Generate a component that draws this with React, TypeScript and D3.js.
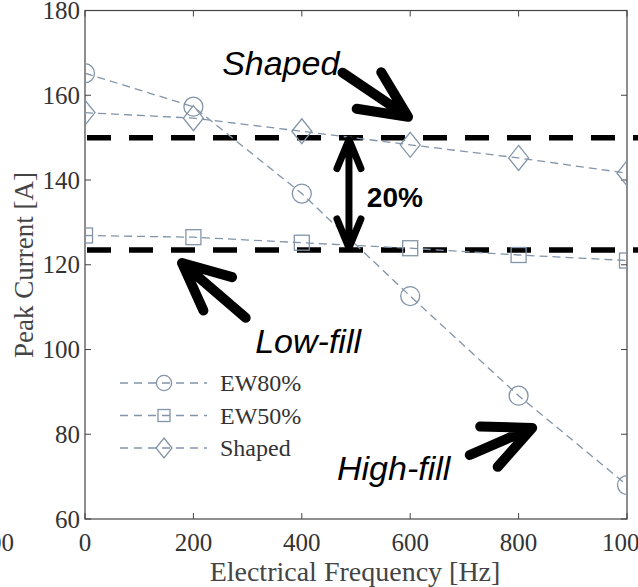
import * as d3 from "d3";

const freqs = [0, 200, 400, 600, 800, 1000];
const ew80 = [165.2, 157.3, 136.8, 112.6, 89.1, 68.0];
const ew50 = [126.9, 126.5, 125.2, 123.9, 122.3, 121.0];
const shaped = [155.9, 154.6, 151.5, 148.3, 145.2, 141.6];

const xTicks = [0, 200, 400, 600, 800, 1000];
const yTicks = [60, 80, 100, 120, 140, 160, 180];

// reference levels (dashed black) and the 20% gap
const levels = [150, 123.5];

// annotation arrows: tip in data units, direction of the tail in degrees, shaft length in px
const arrows = [
  { x: 596, y: 154.9, angle: 214, len: 79 },
  { x: 179, y: 120.4, angle: 40.7, len: 84 },
  { x: 825, y: 81.5, angle: 156.5, len: 68 },
];
const notes = [
  { text: "Shaped", x: 253, y: 164.8 },
  { text: "Low-fill", x: 314, y: 99.2 },
  { text: "High-fill", x: 465, y: 69.2 },
];
const gapX = 487;

const series = [
  { name: "EW80%", values: ew80, marker: "circle" },
  { name: "EW50%", values: ew50, marker: "square" },
  { name: "Shaped", values: shaped, marker: "diamond" },
];

const W = 638;
const H = 587;
const color = "#8394a8";
const axisColor = "#444";
const serif = "'Liberation Serif', 'Times New Roman', serif";
const sans = "'Liberation Sans', Arial, sans-serif";

function Marker({ kind, cx, cy, s = 1 }: { kind: string; cx: number; cy: number; s?: number }) {
  const st = { fill: "none", stroke: color, strokeWidth: 1.3 };
  if (kind === "circle") return <circle cx={cx} cy={cy} r={9.5 * s} {...st} />;
  if (kind === "square") {
    const h = 7.5 * s;
    return <rect x={cx - h} y={cy - h} width={2 * h} height={2 * h} {...st} />;
  }
  const w = 10 * s;
  const hh = 12.5 * s;
  return <path d={`M${cx},${cy - hh}L${cx + w},${cy}L${cx},${cy + hh}L${cx - w},${cy}Z`} {...st} />;
}

function arrowPath(tx: number, ty: number, angle: number, len: number, head = 52, spread = 25) {
  const r = (a: number) => (a * Math.PI) / 180;
  const pt = (a: number, l: number) => [tx + l * Math.cos(r(a)), ty + l * Math.sin(r(a))];
  const tail = pt(angle, len);
  const w1 = pt(angle + spread, head);
  const w2 = pt(angle - spread, head);
  return `M${tail[0]},${tail[1]}L${tx},${ty}M${w1[0]},${w1[1]}L${tx},${ty}L${w2[0]},${w2[1]}`;
}

export default function App() {
  const x = d3.scaleLinear().domain([0, 1000]).range([85, 627]);
  const y = d3.scaleLinear().domain([60, 180]).range([519, 10.5]);
  const [x0, x1] = x.range();
  const [y0, y1] = y.range();

  const line = d3
    .line<number>()
    .x((_, i) => x(freqs[i]))
    .y((d) => y(d));

  const gTop = y(levels[0]);
  const gBot = y(levels[1]);
  const gx = x(gapX);
  const hs = 12;
  const hl = 31;

  return (
    <svg width={W} height={H} style={{ position: "absolute", left: 0, top: 0, background: "#fff" }}>
      <defs>
        <clipPath id="plot">
          <rect x={x0} y={y1} width={x1 - x0} height={y0 - y1} />
        </clipPath>
      </defs>

      {/* axes box and ticks */}
      <rect x={x0} y={y1} width={x1 - x0} height={y0 - y1} fill="none" stroke={axisColor} strokeWidth={1.2} />
      {xTicks.map((t) => (
        <g key={"x" + t}>
          <line x1={x(t)} x2={x(t)} y1={y0} y2={y0 - 6} stroke={axisColor} />
          <line x1={x(t)} x2={x(t)} y1={y1} y2={y1 + 6} stroke={axisColor} />
          <text x={x(t)} y={551} textAnchor="middle" fontFamily={serif} fontSize={25} fill="#333">
            {t}
          </text>
        </g>
      ))}
      {yTicks.map((t) => (
        <g key={"y" + t}>
          <line x1={x0} x2={x0 + 6} y1={y(t)} y2={y(t)} stroke={axisColor} />
          <line x1={x1} x2={x1 - 6} y1={y(t)} y2={y(t)} stroke={axisColor} />
          <text x={80} y={y(t)} dy="0.34em" textAnchor="end" fontFamily={serif} fontSize={25} fill="#333">
            {t}
          </text>
        </g>
      ))}
      {/* neighbouring panel's last tick label */}
      <text x={14} y={551} textAnchor="end" fontFamily={serif} fontSize={25} fill="#333">
        1000
      </text>

      <text x={355} y={581} textAnchor="middle" fontFamily={serif} fontSize={28} fill="#444">
        Electrical Frequency [Hz]
      </text>
      <text
        transform={`translate(33,265) rotate(-90)`}
        textAnchor="middle"
        fontFamily={serif}
        fontSize={27}
        fill="#444"
      >
        Peak Current [A]
      </text>

      {/* reference levels */}
      {levels.map((v) => (
        <line key={v} x1={x0 + 2} x2={W} y1={y(v)} y2={y(v)} stroke="#000" strokeWidth={5.5} strokeDasharray="24 18" />
      ))}

      {/* series */}
      <g clipPath="url(#plot)">
        {series.map((s) => (
          <g key={s.name}>
            <path d={line(s.values) || ""} fill="none" stroke={color} strokeWidth={1.3} strokeDasharray="8 5" />
            {s.values.map((v, i) => (
              <Marker key={i} kind={s.marker} cx={x(freqs[i])} cy={y(v)} />
            ))}
          </g>
        ))}
      </g>

      {/* legend */}
      {series.map((s, i) => {
        const ly = 383 + i * 32.5;
        return (
          <g key={"lg" + s.name}>
            <line x1={120} x2={207} y1={ly} y2={ly} stroke={color} strokeWidth={1.3} strokeDasharray="8 6" />
            <Marker kind={s.marker} cx={164} cy={ly} s={0.8} />
            <text x={220} y={ly} dy="0.34em" fontFamily={serif} fontSize={24} fill="#333">
              {s.name}
            </text>
          </g>
        );
      })}

      {/* annotations */}
      {arrows.map((a, i) => (
        <path
          key={"a" + i}
          d={arrowPath(x(a.x), y(a.y), a.angle, a.len)}
          fill="none"
          stroke="#000"
          strokeWidth={10}
          strokeLinecap="round"
          strokeLinejoin="round"
        />
      ))}
      {notes.map((n) => (
        <text key={n.text} x={x(n.x)} y={y(n.y)} fontFamily={sans} fontStyle="italic" fontSize={34} fill="#000">
          {n.text}
        </text>
      ))}
      <path
        d={`M${gx},${gTop + 2}L${gx},${gBot - 2}M${gx - hs},${gTop + hl}L${gx},${gTop + 2}L${gx + hs},${gTop + hl}M${gx - hs},${gBot - hl}L${gx},${gBot - 2}L${gx + hs},${gBot - hl}`}
        fill="none"
        stroke="#000"
        strokeWidth={7}
        strokeLinecap="round"
        strokeLinejoin="round"
      />
      <text x={x(520)} y={y(133.6)} fontFamily={sans} fontWeight="bold" fontSize={28} fill="#000">
        20%
      </text>
    </svg>
  );
}
